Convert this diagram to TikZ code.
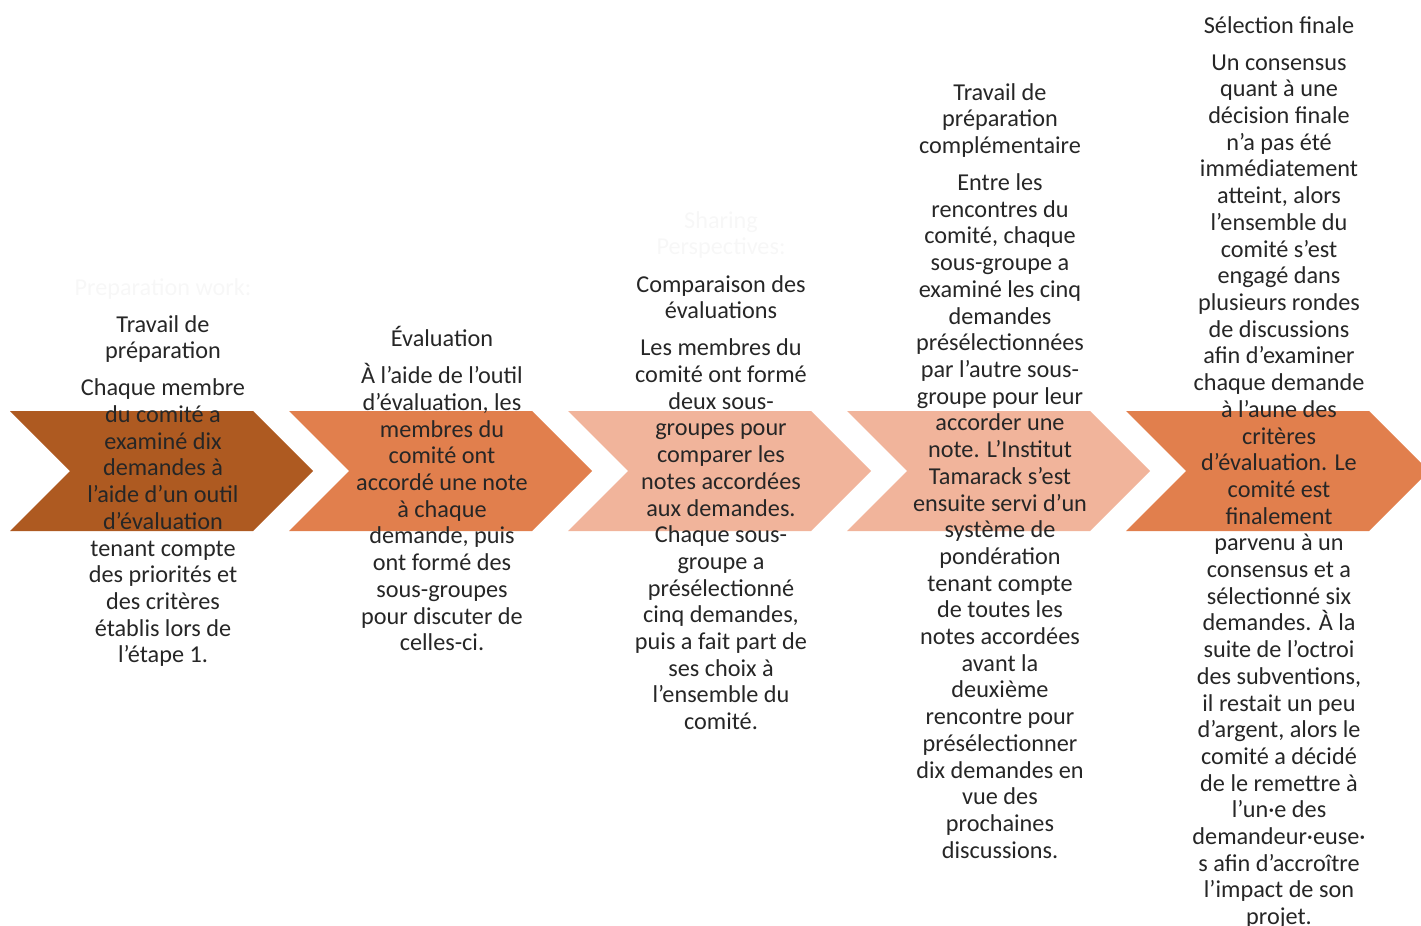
\documentclass[tikz,border=0pt]{standalone}
\usepackage{fontspec}
\setmainfont{Carlito}
\usepackage{tikz}
\usetikzlibrary{calc}
\definecolor{brun}{HTML}{AE5A21}
\definecolor{orangevif}{HTML}{E17F4D}
\definecolor{saumon}{HTML}{F1B49B}
\definecolor{texte}{HTML}{262626}
\tikzset{steptext/.style={anchor=north, align=center, inner sep=0, text=texte,
    font={\fontsize{13.8}{15.2}\selectfont\lineskiplimit-100pt\relax}},
  ghosttext/.style={align=center, inner sep=0, text=black!3,
    font=\fontsize{13.8}{15.2}\selectfont}}

\begin{document}
\begin{tikzpicture}[x=0.02cm,y=-0.02cm]
\useasboundingbox (0,0) rectangle (1421,926);
% chevrons
\foreach \lx/\col in {10/brun,289/orangevif,568/saumon,847/saumon,1126/orangevif} {
  \fill[\col] (\lx,411) -- ++(243,0) -- ++(60,60) -- ++(-60,60) -- ++(-243,0) -- ++(60,-60) -- cycle;
}
% faint leftovers
\node[ghosttext] (ghost1) at (163,289) {Preparation work:};
\node[ghosttext] (ghost2) at (721,235) {Sharing\\Perspectives:};
% texts
\node[steptext] (t1) at (163,313) {\strut Travail de\\préparation\\[5.9pt]
  Chaque membre\\du comité a\\examiné dix\\demandes à\\l’aide d’un outil\\d’évaluation\\
  tenant compte\\des priorités et\\des critères\\établis lors de\\l’étape 1.};
\node[steptext] (t2) at (442,326) {\strut Évaluation\\[5.9pt]
  À l’aide de l’outil\\d’évaluation, les\\membres du\\comité ont\\accordé une note\\
  à chaque\\demande, puis\\ont formé des\\sous-groupes\\pour discuter de\\celles-ci.};
\node[steptext] (t3) at (721,273) {\strut Comparaison des\\évaluations\\[5.9pt]
  Les membres du\\comité ont formé\\deux sous-\\groupes pour\\comparer les\\
  notes accordées\\aux demandes.\\Chaque sous-\\groupe a\\présélectionné\\
  cinq demandes,\\puis a fait part de\\ses choix à\\l’ensemble du\\comité.};
\node[steptext] (t4) at (1000,81) {\strut Travail de\\préparation\\complémentaire\\[5.9pt]
  Entre les\\rencontres du\\comité, chaque\\sous-groupe a\\examiné les cinq\\
  demandes\\présélectionnées\\par l’autre sous-\\groupe pour leur\\accorder une\\
  note. L’Institut\\Tamarack s’est\\ensuite servi d’un\\système de\\pondération\\
  tenant compte\\de toutes les\\notes accordées\\avant la\\deuxième\\rencontre pour\\
  présélectionner\\dix demandes en\\vue des\\prochaines\\discussions.};
\node[steptext] (t5) at (1279,14) {\strut Sélection finale\\[5.9pt]
  Un consensus\\quant à une\\décision finale\\n’a pas été\\immédiatement\\
  atteint, alors\\l’ensemble du\\comité s’est\\engagé dans\\plusieurs rondes\\
  de discussions\\afin d’examiner\\chaque demande\\à l’aune des\\critères\\
  d’évaluation. Le\\comité est\\finalement\\parvenu à un\\consensus et a\\
  sélectionné six\\demandes. À la\\suite de l’octroi\\des subventions,\\
  il restait un peu\\d’argent, alors le\\comité a décidé\\de le remettre à\\
  l’un·e des\\demandeur·euse·\\s afin d’accroître\\l’impact de son\\projet.};
\end{tikzpicture}
\end{document}
